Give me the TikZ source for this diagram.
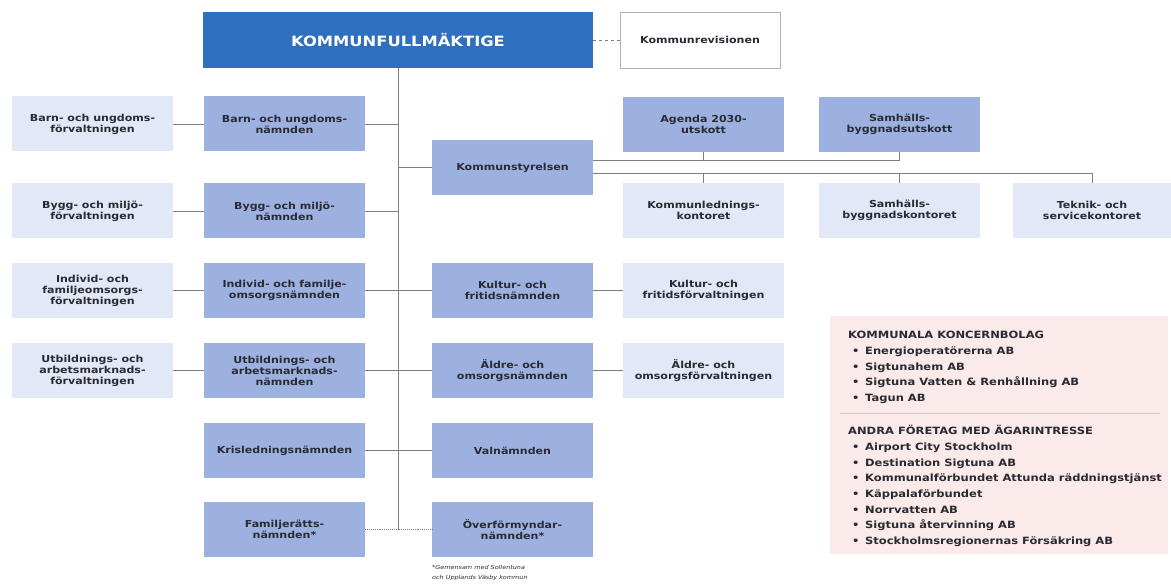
\documentclass[tikz,border=0pt]{standalone}
\usepackage{fontspec}
\setmainfont{DejaVu Sans}[FakeStretch=1.15,BoldFont={DejaVu Sans Bold},ItalicFont={DejaVu Sans Oblique}]
\definecolor{kfblue}{HTML}{2E6FBF}
\definecolor{namndblue}{HTML}{9DB1E1}
\definecolor{forvblue}{HTML}{E2E8F7}
\definecolor{bolagpink}{HTML}{FBEAEA}
\definecolor{linegray}{HTML}{7F7F7F}
\definecolor{textgray}{HTML}{2A2A33}
\newcommand\bul{\hspace*{4pt}\makebox[13pt][l]{\textbullet}}
\begin{document}
\begin{tikzpicture}[x=1pt,y=-1pt,
    box/.style={minimum width=161pt,minimum height=55pt,inner sep=1pt,align=center,
      text=textgray,font=\fontsize{9.6}{11}\selectfont\bfseries},
    namnd/.style={box,fill=namndblue},
    forv/.style={box,fill=forvblue},
    listitem/.style={anchor=base west,inner sep=0,text=textgray,
      font=\fontsize{10}{11}\selectfont\bfseries},
    link/.style={draw=linegray,line width=0.9pt}]
  \useasboundingbox[fill=white] (0,0) rectangle (1171,585);
  \draw
    (398,40) node[box,fill=kfblue,minimum width=390pt,minimum height=56pt,text=white,
      font=\fontsize{14.2}{16}\selectfont\bfseries] (kf){KOMMUNFULLMÄKTIGE}
    (700,40) node[box,draw=linegray!60,fill=white,minimum width=160pt,minimum height=56pt] (rev){Kommunrevisionen}
    (92.5,124) node[forv] (buf){Barn- och ungdoms-\\förvaltningen}
    (284.5,124) node[namnd] (bun){Barn- och ungdoms-\\nämnden}
    (92.5,211) node[forv] (bmf){Bygg- och miljö-\\förvaltningen}
    (284.5,211) node[namnd] (bmn){Bygg- och miljö-\\nämnden}
    (92.5,290.5) node[forv] (iff){Individ- och\\familjeomsorgs-\\förvaltningen}
    (284.5,290.5) node[namnd] (ifn){Individ- och familje-\\omsorgsnämnden}
    (92.5,370.5) node[forv] (uaf){Utbildnings- och\\arbetsmarknads-\\förvaltningen}
    (284.5,370.5) node[namnd] (uan){Utbildnings- och\\arbetsmarknads-\\nämnden}
    (284.5,450.5) node[namnd] (krn){Krisledningsnämnden}
    (284.5,529.5) node[namnd] (frn){Familjerätts-\\nämnden*}
    (512.5,167.5) node[namnd] (ks){Kommunstyrelsen}
    (512.5,290.5) node[namnd] (kfn){Kultur- och\\fritidsnämnden}
    (703.5,290.5) node[forv] (kff){Kultur- och\\fritidsförvaltningen}
    (512.5,370.5) node[namnd] (aon){Äldre- och\\omsorgsnämnden}
    (703.5,370.5) node[forv] (aof){Äldre- och\\omsorgsförvaltningen}
    (512.5,450.5) node[namnd] (vn){Valnämnden}
    (512.5,529.5) node[namnd] (ofn){Överförmyndar-\\nämnden*}
    (703.5,124.5) node[namnd] (agu){Agenda 2030-\\utskott}
    (899.5,124.5) node[namnd] (sbu){Samhälls-\\byggnadsutskott}
    (703.5,210.5) node[forv] (klk){Kommunlednings-\\kontoret}
    (899.5,210.5) node[forv] (sbk){Samhälls-\\byggnadskontoret}
    (1092,210.5) node[forv,minimum width=158pt] (tsk){Teknik- och\\servicekontoret};
  \coordinate (up) at ([yshift=7.5pt]ks.east);
  \coordinate (lo) at ([yshift=-5.5pt]ks.east);
  \begin{scope}[link]
    \draw (kf.south) -- (frn -| kf.south);
    \draw[dashed] (kf) -- (rev);
    \draw (buf) -- (bun);
    \draw (bmf) -- (bmn);
    \draw (iff) -- (ifn);
    \draw (uaf) -- (uan);
    \draw (bun) -- (bun -| kf);
    \draw (bmn) -- (bmn -| kf);
    \draw (ifn) -- (ifn -| kf);
    \draw (uan) -- (uan -| kf);
    \draw (krn) -- (krn -| kf);
    \draw (ks) -- (ks -| kf);
    \draw (kfn) -- (kfn -| kf);
    \draw (aon) -- (aon -| kf);
    \draw (vn) -- (vn -| kf);
    \draw (kfn) -- (kff);
    \draw (aon) -- (aof);
    \draw[densely dotted] (frn) -- (ofn);
    \draw (up) -| (sbu);
    \draw (agu) -- (agu |- up);
    \draw (lo) -| (tsk);
    \draw (klk) -- (klk |- lo);
    \draw (sbk) -- (sbk |- lo);
  \end{scope}
  % footnote
  \node[anchor=north west,align=left,inner sep=0,text=textgray,
    font=\fontsize{5.6}{10}\selectfont\itshape] (note) at (432,565)
    {*Gemensam med Sollentuna\\och Upplands Väsby kommun};
  % bolag
  \node[fill=bolagpink,minimum width=338pt,minimum height=238pt,anchor=north west,inner sep=0] (bolag) at (830,316) {};
  \draw[bolagpink!85!black,line width=0.5pt] (840,413) -- (1160,413);
  \node[listitem] (kbh) at (848,339) {KOMMUNALA KONCERNBOLAG};
  \foreach \t [count=\i] in {Energioperatörerna AB,Sigtunahem AB,
      Sigtuna Vatten \& Renhållning AB,Tagun AB}
    \node[listitem] at (848,339+15.6*\i) {\bul\t};
  \node[listitem] (afh) at (848,435) {ANDRA FÖRETAG MED ÄGARINTRESSE};
  \foreach \t [count=\i] in {Airport City Stockholm,Destination Sigtuna AB,
      Kommunalförbundet Attunda räddningstjänst,Käppalaförbundet,Norrvatten AB,
      Sigtuna återvinning AB,Stockholmsregionernas Försäkring AB}
    \node[listitem] at (848,435+15.6*\i) {\bul\t};
\end{tikzpicture}
\end{document}
